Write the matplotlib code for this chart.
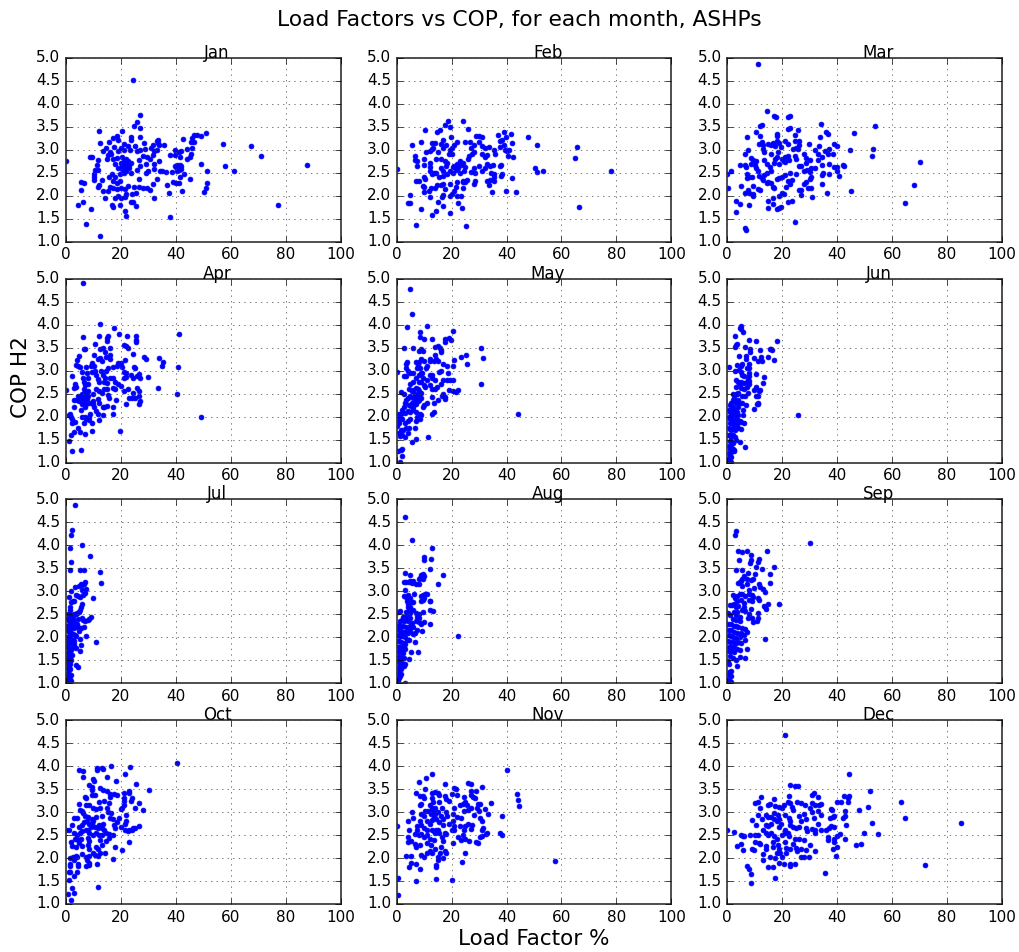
"""
Load factor vs COP scatter, one panel per month, for the ASHP sites.
Values read off the reference picture by eye.
"""

import matplotlib
import matplotlib.pyplot as plt
import numpy as np

matplotlib.use("Agg")

MONTHS = ["Jan", "Feb", "Mar", "Apr", "May", "Jun",
          "Jul", "Aug", "Sep", "Oct", "Nov", "Dec"]
X_TICKS = [0, 20, 40, 60, 80, 100]
Y_TICKS = [1.0, 1.5, 2.0, 2.5, 3.0, 3.5, 4.0, 4.5, 5.0]

# (load factor %, COP H2) pairs for each month
jan = [(0, 2.75), (24.5, 4.53), (87.8, 2.68), (77, 1.8), (71, 2.87), (67.5, 3.09), (61.3, 2.53), (58, 2.64),
       (57, 3.12), (51, 3.37), (49, 3.3), (47.8, 3.33), (46.5, 3.33), (49.3, 2.7), (51.5, 2.53), (51.5, 2.28),
       (51, 2.18), (50.2, 2.09), (45.2, 2.36), (42.3, 2.11), (37.5, 2.07), (37.8, 1.53), (12.2, 1.13), (7.3, 1.39),
       (9.2, 1.72), (4.5, 1.8), (6.3, 1.87), (5.4, 2.13), (5.4, 2.3), (6.5, 2.27), (12, 3.41), (27, 3.76),
       (26, 3.61), (24.8, 3.51), (27, 3.48), (20.3, 3.41), (18.5, 3.3), (19, 3.21), (17, 3.25), (15.8, 3.18),
       (12.3, 3.15), (14.5, 3.05), (13.3, 2.98), (16, 2.96), (15.2, 2.88), (14.8, 2.8), (17.3, 3.07), (19, 2.98),
       (8.8, 2.85), (9.3, 2.84), (11.7, 2.79), (11.3, 2.68), (10.5, 2.57), (11.8, 2.57), (10.3, 2.47), (10.3, 2.42),
       (10.3, 2.35), (11.5, 2.2), (12, 2.23), (13.2, 2.34), (13.3, 2.1), (14.3, 1.95), (15.3, 2.1), (16, 2.2),
       (16.8, 1.8), (17.2, 1.75), (18, 1.96), (19, 2.0), (19.8, 1.81), (20.2, 1.96), (21.3, 1.66), (22, 1.57),
       (23.5, 1.86), (24.5, 1.87), (25.3, 1.78), (25.5, 2.06), (24, 2.04), (22, 2.05), (21.5, 1.98), (21.5, 2.14),
       (22.5, 2.22), (24.8, 2.2), (26.5, 2.19), (28, 2.18), (29.5, 2.18), (30.5, 2.13), (31.5, 2.26), (32, 1.95),
       (33, 2.36), (36.7, 2.23), (39, 2.3), (40, 2.28), (41.2, 2.28), (41.5, 2.4), (43, 2.47), (17, 2.16),
       (18.5, 2.15), (20, 2.18), (18.5, 2.28), (17.2, 2.33), (15.7, 2.4), (16.7, 2.48), (18, 2.4), (19.8, 2.33),
       (19.5, 2.47), (21, 2.5), (22, 2.55), (23.5, 2.5), (21, 2.62), (22, 2.68), (20, 2.72), (21, 2.76),
       (22, 2.8), (23.5, 2.72), (19, 2.6), (18, 2.7), (17.2, 2.8), (16.3, 2.9), (18.5, 2.82), (20.3, 2.84),
       (21, 3.0), (20, 3.05), (21, 3.12), (22.5, 3.08), (23.3, 3.0), (23.5, 3.22), (23.5, 3.28), (25, 3.08),
       (26, 2.97), (26.8, 3.28), (27, 3.0), (28, 2.87), (28.5, 3.15), (28.7, 3.02), (26.5, 2.78), (27, 2.65),
       (25.8, 2.57), (26.5, 2.37), (29, 2.7), (29.5, 2.85), (30.5, 2.8), (31.5, 2.88), (32, 2.7), (33.7, 2.76),
       (29.3, 2.5), (30, 2.55), (32, 2.59), (34.3, 2.53), (35, 2.53), (36.5, 2.52), (38.5, 2.52), (39.5, 2.65),
       (40.5, 2.68), (41, 2.6), (42, 2.65), (40.5, 2.55), (38, 2.88), (39.5, 2.88), (39.5, 3.0), (41, 2.95),
       (42, 2.98), (41.5, 2.84), (44, 3.03), (44, 2.8), (45, 2.85), (45.5, 2.92), (46, 3.05), (45.5, 3.18),
       (46.5, 3.18), (45.7, 3.25), (42.7, 3.23), (33.3, 3.2), (33.5, 3.15), (31.5, 3.1), (31, 3.05), (33, 3.0),
       (32, 2.97), (34, 3.1), (35.5, 3.1), (33.5, 3.22), (20.5, 2.58), (21.5, 2.7), (22.5, 2.62), (23, 2.6),
       (20.5, 2.66), (22.7, 2.75), (21.8, 2.6), (23, 2.68), (40, 2.62), (41.5, 2.68), (41, 2.56), (41.8, 2.58)]

feb = [(0, 2.59), (78, 2.55), (66.3, 1.76), (65.5, 3.07), (65, 2.83), (53.3, 2.55), (51, 2.51), (50.5, 2.6),
       (51, 3.11), (47.8, 3.28), (43.5, 2.09), (39.7, 2.11), (34.7, 2.08), (25.3, 1.34), (7, 1.37), (8.9, 1.72),
       (4, 1.84), (4.7, 1.84), (4.8, 2.02), (13, 1.59), (14.5, 1.68), (19.3, 1.63), (23.9, 1.74), (22.5, 1.85),
       (15, 1.86), (16.7, 1.78), (12, 1.97), (9.8, 2.08), (9.8, 2.2), (9.6, 2.22), (10, 2.4), (10.5, 2.37),
       (7.2, 2.32), (8, 2.32), (11.8, 2.1), (12.4, 2.17), (14, 2.16), (14.8, 2.24), (16, 2.24), (17, 2.25),
       (17.5, 2.15), (19.5, 2.25), (16.7, 2.01), (16.5, 1.98), (19.5, 2.0), (20, 2.05), (20.7, 2.1), (22, 2.0),
       (23.5, 2.0), (21.5, 2.2), (22, 2.3), (24, 2.18), (24.3, 2.33), (25, 2.3), (25.5, 2.35), (28, 2.25),
       (28.7, 2.33), (33, 2.33), (34, 2.35), (33.8, 2.23), (35.5, 2.32), (35.5, 2.42), (38, 2.43), (38.5, 2.48),
       (42, 2.38), (7.5, 2.65), (6.8, 2.78), (6.7, 2.87), (7.5, 2.75), (9.8, 2.8), (10, 2.68), (10.7, 2.95),
       (12, 2.97), (12.7, 3.02), (13.3, 3.04), (5.7, 3.11), (8.8, 3.17), (13, 3.16), (14, 3.16), (10.5, 3.44),
       (14.8, 3.4), (15.6, 3.44), (17.5, 3.55), (18.8, 3.63), (19.5, 3.5), (19.8, 3.29), (16.7, 3.22), (24, 3.63),
       (26, 3.45), (22, 3.18), (25, 3.18), (21, 3.1), (20, 3.05), (18, 3.1), (16, 3.12), (17, 3.05),
       (15, 2.95), (16, 2.8), (14.5, 2.8), (17.5, 2.75), (19, 2.9), (20, 2.92), (18, 2.65), (16, 2.6),
       (14.5, 2.5), (13.5, 2.5), (12.3, 2.55), (12, 2.62), (12.3, 2.72), (13, 2.47), (15.5, 2.4), (17, 2.43),
       (18.5, 2.47), (19.5, 2.55), (20.5, 2.62), (21.5, 2.57), (22, 2.7), (23, 2.75), (24.5, 2.55), (25, 2.62),
       (23, 2.5), (26, 2.8), (26.5, 2.87), (27.5, 2.9), (28, 2.95), (27, 3.05), (26.7, 3.17), (28, 3.1),
       (29, 3.31), (30, 3.3), (31, 3.29), (30, 3.17), (31, 3.08), (32, 3.05), (31, 2.9), (32, 2.85),
       (33, 2.88), (28, 2.6), (28.5, 2.5), (27, 2.52), (30, 2.65), (31, 2.55), (32, 2.6), (33, 2.7),
       (34, 2.65), (35, 2.68), (34.5, 2.5), (35.5, 2.48), (33.5, 3.07), (35.5, 3.0), (35.7, 2.9), (37.5, 3.07),
       (37.5, 3.2), (37.8, 2.65), (38, 2.68), (38.5, 3.22), (39, 3.1), (39.5, 3.0), (40, 2.98), (41, 3.0),
       (40.5, 2.87), (42.5, 2.85), (42, 3.14), (41.5, 3.35), (39, 3.4), (39.7, 3.27), (37, 3.33), (24, 2.3),
       (17, 2.55), (18.5, 2.72), (21, 2.66), (22.5, 2.6), (23.5, 2.68), (24.3, 2.72), (19.5, 3.0), (20.5, 2.5)]

mar = [(0, 2.48), (1.5, 2.53), (0.3, 2.17), (11, 4.88), (70, 2.73), (68, 2.24), (64.7, 1.85), (53.6, 3.52),
       (53, 3.03), (52.7, 2.87), (46, 3.37), (44.7, 3.0), (45, 2.11), (24.8, 1.44), (6.6, 1.31), (6.8, 1.26),
       (3.2, 1.65), (3.2, 1.88), (4.5, 1.83), (8, 1.8), (4.7, 2.67), (5, 2.21), (6.5, 2.07), (7.5, 2.12),
       (8, 2.07), (9.5, 2.0), (9.5, 2.05), (9.5, 2.22), (7, 3.29), (7.5, 3.0), (6.4, 2.9), (6.5, 2.67),
       (6.7, 2.63), (7.2, 2.47), (7.2, 2.38), (8, 2.4), (9, 2.42), (8.5, 2.7), (8.5, 2.82), (9.5, 2.78),
       (10, 2.68), (10.5, 2.6), (10.5, 2.75), (11, 2.55), (11, 2.15), (11.8, 2.12), (11.5, 2.43), (12.5, 2.38),
       (13, 2.35), (13.5, 2.45), (14.3, 2.5), (14.5, 2.27), (15, 2.3), (16, 2.27), (16.7, 2.2), (17, 2.18),
       (14.7, 1.88), (14.8, 1.74), (16.5, 1.96), (16.5, 1.83), (18, 1.71), (18.8, 1.73), (19.5, 1.76), (19, 2.0),
       (20, 2.06), (20.5, 2.03), (22, 1.87), (23.7, 1.88), (21.5, 2.2), (22, 2.33), (23, 2.25), (23.5, 2.35),
       (23, 2.5), (25, 2.48), (26, 2.12), (27, 2.12), (26.8, 2.02), (28, 2.25), (28.8, 2.3), (29.5, 2.17),
       (30.5, 2.17), (31, 1.97), (30, 2.37), (30.5, 2.4), (26, 2.65), (27, 2.65), (28, 2.55), (29, 2.57),
       (30, 2.52), (30.5, 2.6), (32, 2.6), (34.5, 2.68), (34.5, 2.45), (35, 2.5), (34.3, 2.25), (36.3, 2.07),
       (37, 2.47), (37, 2.7), (38.8, 2.62), (40, 2.63), (40, 2.53), (40.7, 2.43), (42, 2.68), (42.5, 2.65),
       (10.5, 3.38), (11.5, 3.13), (12, 3.52), (12.8, 3.55), (12, 3.3), (12.5, 3.18), (13, 3.1), (13, 3.02),
       (13.5, 2.95), (13.5, 2.78), (14.5, 2.7), (15.5, 2.63), (16, 2.55), (17, 2.72), (17.5, 2.8), (18, 2.85),
       (15, 3.12), (16, 3.1), (16.5, 3.15), (17.5, 3.08), (18, 3.2), (18, 3.3), (18, 3.35), (19, 3.15),
       (19.5, 3.07), (18.5, 2.95), (20, 2.8), (20.5, 2.75), (18.7, 2.7), (16, 2.9), (14.5, 3.85), (17, 3.74),
       (17.7, 3.72), (22, 3.72), (23, 3.74), (22, 3.46), (22.8, 3.48), (25.7, 3.44), (21, 3.2), (22, 3.13),
       (24.7, 3.2), (24.7, 3.33), (26, 3.2), (26, 3.1), (25, 3.05), (25.7, 3.02), (24, 3.02), (21, 2.85),
       (22, 2.87), (22.5, 2.78), (21, 2.73), (24.8, 2.87), (25, 2.8), (28, 2.9), (28.5, 2.82), (28.8, 2.72),
       (30, 2.78), (29.7, 3.12), (32, 3.0), (33, 2.9), (33, 2.78), (33.7, 3.27), (34, 3.57), (33.5, 3.08),
       (34.5, 2.85), (35.5, 2.98), (36, 3.4), (36.5, 3.35), (36.5, 2.9), (37, 3.02), (38.7, 3.13), (38.5, 2.9),
       (40, 3.08), (20, 2.4), (19, 2.38), (18, 2.37), (21, 2.45)]

apr = [(0, 2.58), (6.2, 4.9), (41, 3.79), (40.7, 3.08), (40.3, 2.5), (49.3, 2.0), (35.3, 3.18), (34.8, 3.1),
       (34, 3.27), (33.5, 2.63), (30, 2.87), (29, 3.25), (28.3, 3.29), (19.5, 1.68), (5.3, 1.28), (2.2, 1.26),
       (1.1, 1.46), (2, 1.6), (3, 1.67), (4.3, 1.75), (5, 1.66), (6.8, 1.62), (9.5, 1.68), (9.3, 1.85),
       (6.5, 1.85), (3.2, 1.88), (2.2, 1.85), (1, 2.03), (1.6, 2.05), (1.8, 2.0), (2.2, 1.95), (3, 2.2),
       (2.8, 2.35), (4, 2.36), (4.3, 2.45), (4.8, 2.33), (5.3, 2.15), (5.7, 2.4), (6, 2.5), (6.5, 2.6),
       (6.5, 2.32), (7, 2.2), (7, 2.0), (7.3, 1.95), (5.7, 1.98), (8.5, 2.0), (8.7, 2.3), (8, 2.45),
       (8, 2.55), (3, 2.62), (3.2, 2.7), (3.8, 2.65), (2.1, 2.88), (3.5, 3.12), (4.2, 3.1), (4, 3.24),
       (4.9, 3.32), (5, 3.08), (6, 2.97), (6.3, 2.85), (6.6, 2.75), (7, 2.68), (7.3, 3.08), (7.8, 2.95),
       (8, 2.83), (8, 2.7), (6.3, 3.74), (6.5, 3.46), (7, 3.46), (10.5, 3.58), (12, 3.76), (12.2, 4.01),
       (17.5, 3.93), (19.3, 3.8), (22.2, 3.75), (15.3, 3.76), (15, 3.65), (15, 3.7), (25.3, 3.75), (25.3, 3.67),
       (25.3, 3.62), (21.2, 3.55), (22, 3.53), (22.5, 3.5), (16, 3.5), (13.5, 3.5), (12.5, 3.46), (14.3, 3.4),
       (14.5, 3.3), (16, 3.33), (16, 3.25), (24.3, 3.37), (21.5, 3.24), (10.2, 3.34), (11.7, 3.25), (12.5, 3.28),
       (13, 3.2), (9.5, 3.17), (10.3, 3.1), (10.5, 3.0), (9.2, 3.1), (9.3, 2.97), (11, 2.9), (11.5, 2.82),
       (12, 2.75), (12.8, 3.0), (13.5, 2.9), (14.3, 2.85), (14.5, 3.0), (15.2, 3.05), (16, 2.85), (17, 2.85),
       (17, 3.08), (18.5, 3.1), (19, 3.17), (20, 3.17), (20.5, 3.08), (18, 2.75), (19, 2.7), (20, 2.67),
       (21, 2.97), (22, 2.95), (21, 2.85), (22, 2.87), (23.5, 2.9), (25, 3.05), (24.7, 3.08), (24.5, 2.85),
       (26, 2.88), (26.5, 2.93), (27, 2.84), (11, 2.6), (12, 2.55), (13, 2.52), (14, 2.6), (15, 2.6),
       (15.3, 2.47), (15.5, 2.4), (15, 2.23), (14, 2.2), (13.5, 2.2), (13.3, 2.03), (11.5, 2.05), (11, 2.12),
       (10.3, 2.2), (10, 2.27), (10, 2.33), (11.5, 2.38), (12, 2.3), (17, 2.2), (17, 2.05), (18.2, 2.37),
       (18, 2.6), (21, 2.55), (22, 2.28), (22.5, 2.6), (23, 2.4), (24, 2.4), (24.5, 2.52), (25, 2.4),
       (26, 2.63), (26.5, 2.55), (26.5, 2.27), (27, 2.33), (26.7, 2.45), (14, 2.75), (10, 2.5), (8.7, 2.06),
       (8.3, 1.92), (12, 1.92), (17, 2.63), (15, 2.72), (5, 2.38), (6, 2.28), (7, 2.4), (7.5, 2.5),
       (6.8, 2.55), (7.8, 2.38), (7.3, 2.28), (5.5, 2.45), (6.3, 2.42)]

may = [(0, 2.96), (5, 4.77), (5.6, 4.24), (3.8, 3.96), (11, 3.98), (8.5, 3.85), (8.5, 3.73), (10, 3.68),
       (13, 3.69), (20.5, 3.86), (19, 3.7), (19.7, 3.66), (17.5, 3.68), (17.5, 3.63), (2.5, 3.49), (6, 3.49),
       (14, 3.52), (15, 3.53), (15.7, 3.5), (16, 3.45), (16, 3.4), (8, 3.42), (9, 3.46), (9.5, 3.42),
       (14, 3.33), (14.5, 3.25), (15, 3.2), (12, 3.2), (12, 3.25), (13.5, 3.22), (30.7, 3.49), (31.3, 3.27),
       (25.3, 3.33), (23.5, 3.29), (25.5, 3.14), (20.7, 3.23), (20.5, 3.09), (30.8, 2.7), (44.3, 2.05), (11.5, 1.55),
       (5.6, 1.44), (7, 1.52), (1.8, 1.15), (2, 1.29), (0.5, 1.26), (1.5, 1.27), (1.2, 1.02), (17, 3.15),
       (18.5, 3.1), (16, 3.0), (15.5, 2.98), (18.8, 2.94), (17, 2.8), (18.5, 2.8), (19.5, 2.8), (20.5, 2.8),
       (19, 2.58), (20.5, 2.55), (21.5, 2.53), (22.3, 2.58), (17, 2.5), (17.5, 2.42), (17.5, 2.38), (16.5, 2.45),
       (15, 2.35), (13.7, 2.3), (13, 2.42), (13, 2.05), (13.5, 2.1), (16, 2.7), (14.7, 2.65), (14, 2.6),
       (13, 2.6), (14, 2.8), (13, 2.85), (12, 2.9), (11, 2.8), (10.7, 3.05), (11, 3.1), (10, 3.2),
       (9, 3.25), (8, 3.18), (7, 3.18), (7.5, 3.05), (8.5, 3.05), (9, 2.95), (9.5, 2.85), (9, 2.75),
       (8, 2.75), (7, 2.85), (6, 2.95), (5, 2.95), (4, 3.0), (3.5, 3.15), (3.8, 3.18), (3.5, 3.05),
       (2.5, 2.88), (3.3, 2.88), (4.5, 2.6), (5, 2.7), (6, 2.75), (6, 2.58), (7, 2.62), (8, 2.55),
       (9, 2.52), (10, 2.68), (10.5, 2.65), (11, 2.3), (10, 2.25), (9, 2.4), (8, 2.35), (7, 2.4),
       (6, 2.4), (5.5, 2.3), (5, 2.45), (4, 2.4), (3, 2.3), (2.5, 2.2), (1.5, 2.53), (2.5, 2.5),
       (2, 2.15), (3, 2.08), (4, 2.12), (5, 2.1), (6, 2.15), (7, 2.1), (7.5, 2.0), (7.2, 1.9),
       (8.5, 2.05), (8.5, 1.95), (9, 2.03), (6.5, 1.75), (4.5, 1.75), (4.2, 1.65), (3, 1.85), (4, 1.9),
       (5, 1.95), (2, 1.95), (1.5, 2.05), (0.5, 2.05), (1, 1.95), (0.3, 1.8), (1, 1.85), (1, 1.65),
       (1.5, 1.7), (1.2, 1.58), (2, 1.6), (3, 1.55), (2.2, 1.7), (3.5, 1.75), (9.3, 2.95), (6, 2.2),
       (7, 2.28), (7.5, 2.45), (8.3, 2.48), (9.5, 2.2), (7.8, 3.12), (8.2, 2.9), (12, 2.68), (12.7, 2.9),
       (6.5, 2.32), (7.8, 2.33), (5.3, 2.22), (4.5, 2.25), (3.5, 2.35), (6.5, 2.5), (5.5, 2.55), (7.8, 2.6)]

jun = [(0.5, 3.07), (25.7, 2.03), (18, 3.64), (10.6, 3.65), (8, 3.67), (5, 3.97), (5, 3.9), (4.6, 3.92),
       (5.6, 3.83), (2.8, 3.75), (3.3, 3.55), (2.9, 3.52), (3.7, 3.58), (6.3, 3.52), (8.3, 3.46), (8.3, 3.4),
       (12, 3.45), (16, 3.47), (15.5, 3.46), (16.3, 3.45), (15, 3.3), (12.2, 3.3), (11, 3.2), (12.5, 3.2),
       (17, 3.23), (4.1, 3.32), (6.8, 3.32), (6.7, 3.25), (9.7, 3.27), (8, 3.15), (8, 3.05), (7, 3.05),
       (5.3, 3.15), (5, 3.1), (3.5, 3.13), (2.8, 3.0), (4.2, 3.02), (5, 2.98), (5.5, 2.9), (6, 2.88),
       (8, 2.95), (8, 2.88), (7.5, 2.82), (10.5, 2.93), (13.3, 2.87), (13, 2.72), (10.6, 2.65), (9.7, 2.57),
       (11.5, 2.55), (12, 2.57), (10.5, 2.45), (11, 2.45), (11, 2.3), (10.8, 2.27), (11.3, 2.28), (9.7, 2.16),
       (3.2, 2.8), (4, 2.75), (4.5, 2.7), (5, 2.75), (6, 2.72), (7, 2.75), (8, 2.7), (8, 2.78),
       (7, 2.65), (6, 2.6), (5, 2.62), (3.3, 2.65), (7.5, 2.52), (6.5, 2.45), (5.5, 2.45), (4, 2.52),
       (3.5, 2.5), (2, 2.5), (3, 2.5), (1, 2.25), (1.5, 2.3), (2, 2.35), (2.5, 2.4), (3, 2.3),
       (4, 2.35), (4.5, 2.3), (5.5, 2.3), (6.7, 2.25), (0.5, 2.15), (1, 2.1), (1.5, 2.15), (2, 2.2),
       (2.7, 2.15), (3.5, 2.1), (4, 2.2), (5.8, 2.15), (5.7, 2.03), (0.5, 2.0), (1, 1.95), (1.5, 2.02),
       (2, 2.05), (2.5, 1.95), (3, 2.0), (3.5, 1.95), (4, 2.03), (4.5, 1.9), (5, 1.88), (6, 1.87),
       (1, 1.85), (1.5, 1.85), (2, 1.88), (2.5, 1.82), (3, 1.85), (3.5, 1.82), (4, 1.75), (5, 1.72),
       (0.5, 1.75), (1, 1.72), (1.5, 1.7), (2, 1.75), (2.8, 1.7), (0.4, 1.6), (1, 1.6), (1.5, 1.55),
       (2, 1.6), (2.8, 1.55), (3, 1.48), (4.5, 1.45), (1, 1.47), (1.5, 1.45), (2, 1.42), (0.5, 1.35),
       (1, 1.3), (1.5, 1.33), (2, 1.3), (2.5, 1.28), (2.6, 1.25), (1.5, 1.22), (0.5, 1.2), (1, 1.15),
       (1.5, 1.12), (6.5, 1.33), (0.3, 1.08), (0.7, 1.03), (1.2, 1.01), (0.4, 1.0), (1, 1.0)]

jul = [(3.2, 4.87), (2.3, 4.33), (2, 4.22), (6, 4.01), (1.6, 3.94), (8.8, 3.77), (2, 3.64), (1.3, 3.47),
       (5, 3.46), (6.5, 3.47), (12.2, 3.42), (12.9, 3.19), (7, 3.2), (6.4, 3.17), (6, 3.14), (5.5, 3.15),
       (4.7, 3.12), (3.2, 3.09), (2, 3.0), (7.2, 3.05), (6, 3.03), (7, 2.96), (6.2, 2.93), (5, 2.88),
       (3.8, 2.92), (4.2, 2.9), (1, 2.88), (10, 2.85), (2, 2.76), (2.6, 2.78), (3, 2.8), (5.7, 2.73),
       (5.5, 2.65), (5.2, 2.6), (1.3, 2.66), (1.3, 2.6), (4.7, 2.55), (4, 2.53), (3.5, 2.5), (3, 2.5),
       (0.8, 2.5), (1.3, 2.5), (2, 2.47), (2.5, 2.45), (9, 2.44), (8.5, 2.4), (8, 2.37), (7, 2.35),
       (5.8, 2.42), (6.2, 2.38), (4.5, 2.4), (0.5, 2.4), (1, 2.35), (1.5, 2.4), (2, 2.35), (3, 2.35),
       (3.5, 2.3), (4, 2.3), (0.5, 2.25), (1, 2.25), (1.5, 2.28), (2, 2.22), (2.5, 2.25), (3, 2.2),
       (4.5, 2.22), (5.3, 2.2), (6.5, 2.23), (4.7, 2.13), (0.5, 2.15), (1, 2.12), (1.5, 2.15), (2, 2.1),
       (2.5, 2.08), (3.2, 2.05), (3.7, 2.02), (7.3, 2.03), (0.5, 2.0), (1, 2.0), (1.5, 2.03), (2, 1.95),
       (2.5, 1.95), (3, 1.92), (5, 1.97), (11, 1.9), (0.3, 1.9), (1, 1.88), (1.5, 1.9), (2, 1.85),
       (2.8, 1.85), (3, 1.78), (3.5, 1.77), (5.3, 1.83), (5, 1.7), (0.5, 1.78), (1, 1.75), (1.5, 1.75),
       (2, 1.72), (0.3, 1.65), (1, 1.65), (1.5, 1.62), (2.3, 1.62), (0.5, 1.55), (1, 1.55), (1.5, 1.52),
       (2, 1.5), (0.3, 1.45), (1, 1.45), (1.5, 1.42), (0.5, 1.35), (1, 1.35), (1.4, 1.3), (3.7, 1.39),
       (4.4, 1.36), (0.3, 1.25), (0.8, 1.25), (1.2, 1.2), (2, 1.18), (0.3, 1.15), (0.8, 1.12), (1.5, 1.1),
       (0.2, 1.05), (0.7, 1.05), (1.2, 1.03), (1.8, 1.04), (0.3, 1.0), (0.9, 1.0), (1.5, 1.0)]

aug = [(3, 4.61), (5.5, 4.11), (13, 3.94), (10, 3.75), (10, 3.69), (12.5, 3.71), (12, 3.49), (17, 3.36),
       (15, 3.15), (3, 3.4), (5, 3.36), (9, 3.35), (9.5, 3.38), (10, 3.33), (8.5, 3.3), (8.3, 3.27),
       (9.5, 3.28), (2.5, 3.21), (3.5, 3.2), (4.5, 3.2), (5, 3.23), (5.5, 3.18), (6, 3.22), (7, 3.17),
       (8, 3.17), (3.2, 3.02), (6.2, 2.95), (2.7, 2.9), (3.3, 2.88), (4.2, 2.92), (5, 2.85), (10.5, 2.95),
       (11, 2.95), (9.5, 2.92), (8.7, 2.9), (8.7, 2.8), (9.5, 2.82), (10, 2.85), (12, 2.8), (12.3, 2.78),
       (3.8, 2.78), (4.2, 2.72), (5.5, 2.77), (6, 2.77), (4, 2.65), (5, 2.65), (4.5, 2.6), (6, 2.6),
       (12, 2.6), (13.3, 2.57), (0.5, 2.55), (1.2, 2.57), (3.5, 2.55), (4, 2.52), (5, 2.52), (7, 2.52),
       (8, 2.5), (9.5, 2.55), (7.5, 2.45), (8, 2.42), (2.3, 2.45), (3, 2.45), (3.7, 2.42), (5, 2.42),
       (1.2, 2.35), (2, 2.38), (2.8, 2.35), (4, 2.35), (5.5, 2.32), (7.2, 2.35), (8, 2.33), (9, 2.3),
       (10, 2.33), (12, 2.3), (0.2, 2.25), (1, 2.27), (1.5, 2.22), (2.3, 2.25), (3.3, 2.22), (4, 2.2),
       (5, 2.25), (6, 2.23), (7.5, 2.17), (9.3, 2.14), (0.8, 2.15), (1.5, 2.12), (2.3, 2.12), (3.2, 2.12),
       (4, 2.1), (5, 2.13), (6, 2.08), (6.7, 2.1), (22.5, 2.03), (0.5, 2.05), (1.2, 2.03), (2, 2.03),
       (3, 2.0), (3.8, 1.95), (4.5, 1.95), (6.6, 1.89), (0.5, 1.92), (1, 1.92), (1.7, 1.9), (2.5, 1.88),
       (3, 1.85), (0.5, 1.8), (1, 1.8), (1.8, 1.8), (2.5, 1.78), (3.2, 1.75), (5.2, 1.68), (7.7, 1.68),
       (0.5, 1.7), (1, 1.68), (1.6, 1.7), (2.4, 1.65), (0.4, 1.58), (1.2, 1.58), (1.8, 1.55), (2.8, 1.55),
       (4.6, 1.52), (0.6, 1.48), (1.2, 1.45), (2, 1.45), (3, 1.42), (2.7, 1.37), (0.4, 1.35), (1, 1.35),
       (1.7, 1.32), (0.5, 1.25), (1, 1.22), (1.5, 1.2), (0.3, 1.15), (0.8, 1.12), (1.3, 1.15), (0.4, 1.05),
       (3, 1.0)]

sep = [(30, 4.05), (3, 4.32), (2.8, 4.22), (14.4, 3.88), (3.8, 3.88), (5.2, 3.86), (7.2, 3.88), (8.8, 3.8),
       (4.2, 3.69), (8.5, 3.68), (8.2, 3.62), (11.5, 3.71), (11, 3.65), (10.5, 3.53), (17, 3.53), (12.5, 3.48),
       (3.2, 3.47), (5.2, 3.47), (15.7, 3.38), (7.5, 3.39), (10, 3.38), (15.6, 3.18), (6, 3.33), (5.3, 3.28),
       (5, 3.22), (7, 3.27), (8.5, 3.25), (9.5, 3.27), (4, 3.18), (4.8, 3.2), (5.3, 3.12), (7, 3.15),
       (11.5, 3.15), (12, 3.1), (9.7, 3.07), (13, 3.05), (13.7, 2.98), (8, 3.02), (2, 2.93), (3.5, 2.9),
       (4.5, 2.95), (5.5, 2.95), (6.5, 2.9), (7.8, 2.95), (9, 2.92), (9.5, 2.88), (11, 2.85), (11.7, 2.82),
       (8, 2.82), (9, 2.78), (2.8, 2.85), (3.5, 2.78), (5, 2.82), (6, 2.75), (1, 2.7), (1.7, 2.7),
       (2.5, 2.72), (3, 2.65), (4, 2.68), (6.2, 2.65), (13.5, 2.68), (14, 2.62), (15, 2.72), (18.7, 2.72),
       (13.8, 2.65), (8.5, 2.62), (6.5, 2.58), (5.5, 2.6), (3.7, 2.55), (2.3, 2.55), (0.3, 2.52), (1, 2.48),
       (3, 2.48), (4.5, 2.45), (8, 2.5), (11, 2.53), (7.5, 2.42), (9, 2.42), (9.5, 2.33), (10.7, 2.35),
       (11.3, 2.42), (2, 2.4), (3, 2.38), (4.5, 2.35), (0.3, 2.3), (1.2, 2.3), (2.4, 2.25), (3.2, 2.25),
       (4, 2.22), (5.5, 2.2), (6.5, 2.18), (0.5, 2.15), (1.5, 2.15), (2.5, 2.12), (3.5, 2.1), (5, 2.1),
       (7, 2.12), (6, 2.05), (0.5, 2.05), (1.2, 2.02), (2.2, 2.0), (3.2, 1.98), (4.5, 2.0), (6.5, 1.95),
       (13.7, 1.96), (0.3, 1.93), (1, 1.9), (2, 1.9), (3, 1.87), (4, 1.9), (5, 1.88), (0.5, 1.8),
       (1.5, 1.8), (2.5, 1.78), (3.5, 1.75), (4.5, 1.72), (7.2, 1.74), (0.5, 1.7), (1.5, 1.7), (2.5, 1.68),
       (4.5, 1.58), (6.6, 1.55), (1, 1.6), (2, 1.55), (3, 1.5), (0.3, 1.48), (0.8, 1.42), (3.7, 1.37),
       (0.8, 1.25), (1.5, 1.27), (0.5, 1.18), (1.2, 1.15), (0.4, 1.08), (1, 1.05), (1.5, 1.02), (0.5, 1.0)]

oct_ = [(0, 2.62), (1, 2.6), (40.3, 4.07), (30.3, 3.49), (28, 3.05), (26.7, 3.2), (25.4, 3.62), (23.2, 3.98),
        (16.3, 4.01), (11.4, 3.95), (11.4, 3.92), (13, 3.95), (13.5, 3.93), (4.8, 3.92), (6.2, 3.9), (6.3, 3.77),
        (10, 3.72), (10.3, 3.68), (14.8, 3.77), (18.2, 3.67), (21.3, 3.84), (23, 3.47), (23, 3.42), (8.2, 3.6),
        (9.3, 3.55), (9.5, 3.48), (12.3, 3.52), (13.5, 3.48), (15, 3.45), (16, 3.4), (17.5, 3.4), (18.5, 3.38),
        (21, 3.42), (16, 3.33), (15.7, 3.2), (21, 3.3), (21, 3.25), (24, 3.3), (23.7, 3.25), (25, 3.1),
        (21, 3.15), (20.5, 3.1), (20, 3.07), (7, 3.33), (7.3, 3.3), (9.5, 3.38), (10.7, 3.38), (12, 3.22),
        (13.7, 3.25), (4.7, 3.17), (5, 3.05), (6, 3.03), (7.2, 3.15), (8.5, 3.15), (9.7, 3.1), (11, 3.07),
        (12.5, 3.08), (15, 3.08), (15.3, 3.0), (16.5, 2.98), (4, 2.88), (3, 2.87), (6.2, 2.97), (7, 2.92),
        (8, 2.9), (9.5, 2.85), (11, 2.9), (13, 2.92), (16, 2.88), (17, 2.85), (19.3, 2.88), (22, 2.94),
        (2.3, 2.72), (4.7, 2.68), (5.7, 2.72), (6.5, 2.78), (7.5, 2.8), (8.5, 2.75), (9.5, 2.75), (10.5, 2.68),
        (12, 2.72), (13, 2.65), (14, 2.6), (17.5, 2.72), (18, 2.66), (18.5, 2.78), (20, 2.68), (22, 2.8),
        (21.5, 2.75), (24.5, 2.65), (25, 2.66), (26.5, 2.7), (24, 2.62), (23, 2.62), (22.5, 2.58), (21.5, 2.6),
        (3, 2.55), (4, 2.5), (5.2, 2.55), (6, 2.58), (7.3, 2.6), (8.5, 2.55), (9.7, 2.5), (11, 2.55),
        (12, 2.5), (13, 2.5), (14.5, 2.55), (15.5, 2.52), (17, 2.51), (3.2, 2.42), (4.5, 2.4), (5.5, 2.42),
        (8, 2.43), (8.5, 2.38), (12.2, 2.4), (15.7, 2.43), (14.4, 2.37), (23, 2.36), (1.8, 2.35), (2.3, 2.27),
        (3.7, 2.25), (4.8, 2.33), (6, 2.27), (7.9, 2.28), (8.2, 2.2), (11, 2.23), (11.5, 2.2), (13.2, 2.29),
        (17.7, 2.24), (20.5, 2.18), (10, 2.12), (10.5, 2.07), (11.5, 2.05), (12.3, 2.12), (14.3, 2.1), (17, 1.99),
        (1.5, 2.0), (2.7, 2.02), (3.5, 2.04), (4, 2.02), (3, 1.95), (5.7, 2.08), (7.3, 2.02), (8.3, 2.05),
        (7.5, 1.95), (8.3, 1.9), (1.3, 1.88), (1.3, 1.83), (4.3, 1.87), (4.2, 1.83), (7.3, 1.82), (8.3, 1.85),
        (11.3, 1.88), (1, 1.69), (1.6, 1.7), (4, 1.7), (2.8, 1.61), (1, 1.52), (2.2, 1.35), (11.5, 1.37),
        (2.8, 1.25), (0.6, 1.22), (1.8, 1.09), (8, 2.62), (9, 2.68), (10, 2.8), (11.5, 2.65), (13.5, 2.75)]

nov = [(0, 2.7), (0.6, 1.57), (0.4, 1.19), (57.5, 1.93), (40.2, 3.92), (43.8, 3.4), (44.3, 3.26), (44.7, 3.14),
       (38.5, 2.92), (38.5, 2.5), (37.5, 2.54), (34.3, 3.2), (33.3, 2.96), (33, 2.54), (32.5, 2.52), (32, 3.07),
       (31, 3.54), (26, 3.63), (27, 3.62), (27, 3.45), (21, 3.52), (21.7, 3.5), (17.5, 3.61), (13, 3.82),
       (10.7, 3.74), (8.2, 3.65), (10.4, 3.5), (7.2, 3.41), (8.5, 3.36), (9.5, 3.34), (10, 3.3), (12.8, 3.41),
       (14, 3.43), (15, 3.42), (15.3, 3.37), (17.5, 3.35), (20, 3.4), (22, 3.38), (13, 3.3), (13.3, 3.22),
       (15.3, 3.22), (18, 3.28), (19, 3.24), (24.5, 3.33), (27, 3.37), (27.7, 3.33), (28.5, 3.3), (29, 3.47),
       (8.5, 3.15), (9, 3.17), (12, 3.15), (13, 3.1), (14, 3.08), (15, 3.0), (16.5, 3.1), (18, 3.0),
       (21, 3.1), (23, 3.15), (24, 3.18), (25, 3.22), (25.5, 3.15), (26, 3.05), (27, 3.08), (24.5, 3.03),
       (29.5, 3.18), (30.3, 3.18), (29.3, 3.1), (5.7, 3.01), (5.8, 2.87), (4.2, 2.8), (9, 2.95), (10, 2.92),
       (10.5, 3.03), (11.5, 3.03), (12.5, 2.95), (13.5, 2.9), (14.5, 2.85), (16, 2.92), (17, 2.85), (18.5, 2.92),
       (20.5, 2.96), (22, 2.9), (23.5, 2.88), (28.3, 2.93), (30, 3.02), (30.5, 2.87), (31, 2.8), (8.5, 2.8),
       (9, 2.72), (11, 2.8), (12, 2.75), (13, 2.82), (15.5, 2.78), (17, 2.72), (19, 2.75), (20.5, 2.8),
       (21, 2.7), (23, 2.7), (25, 2.7), (26, 2.75), (27.5, 2.72), (4.5, 2.6), (7.5, 2.7), (7.5, 2.62),
       (10, 2.65), (11, 2.6), (13, 2.6), (14, 2.55), (15, 2.6), (17.5, 2.55), (20, 2.6), (21, 2.62),
       (24.5, 2.62), (27, 2.63), (31, 2.62), (31.5, 2.65), (4.3, 2.46), (6.5, 2.52), (8, 2.5), (9, 2.53),
       (10, 2.45), (11, 2.5), (12, 2.42), (13.5, 2.4), (16.5, 2.45), (18, 2.52), (22.5, 2.45), (24, 2.5),
       (25, 2.42), (26.5, 2.37), (30.5, 2.45), (31, 2.47), (4, 2.36), (5.2, 2.38), (6.5, 2.3), (7.2, 2.25),
       (8.5, 2.28), (11, 2.32), (12.5, 2.28), (14, 2.2), (16, 2.25), (17, 2.38), (20.5, 2.33), (23.5, 2.4),
       (29, 2.35), (29.5, 2.33), (11, 2.12), (12, 2.15), (13, 2.12), (15.8, 2.1), (17.5, 2.15), (18, 2.1),
       (17, 2.0), (25, 2.12), (3.3, 2.04), (5.3, 2.04), (8.8, 2.07), (9.8, 2.03), (15, 2.02), (15, 1.95),
       (14.5, 1.85), (14.5, 1.81), (23.8, 1.91), (5.2, 1.89), (7.2, 1.87), (4.5, 1.8), (8.4, 1.76), (7.2, 1.49),
       (14.5, 1.55), (20, 1.53), (13.5, 2.58), (14.5, 2.6), (15.5, 2.55), (12.5, 3.0), (13.5, 3.0), (14, 2.95)]

dec = [(0, 2.6), (2.6, 2.57), (85, 2.77), (71.8, 1.85), (64.7, 2.88), (63.4, 3.22), (55, 2.53), (52.7, 2.77),
       (52, 3.46), (51.3, 3.12), (49.7, 2.55), (48.7, 2.3), (47, 2.28), (48, 3.05), (44.4, 3.84), (44.4, 3.36),
       (44, 3.3), (44, 3.22), (42.5, 3.35), (41.5, 3.22), (40, 3.22), (42.8, 3.02), (43, 2.92), (42, 2.87),
       (43.2, 2.73), (42.8, 2.42), (41, 2.53), (40, 2.47), (39, 2.42), (39, 2.36), (40, 2.23), (38.5, 2.2),
       (39.5, 2.04), (35.5, 1.67), (21, 4.68), (23, 3.58), (24.8, 3.56), (25.7, 3.56), (31.5, 3.42), (31, 3.37),
       (33, 3.33), (22.5, 3.35), (22, 3.23), (23, 3.2), (25.5, 3.22), (27, 3.2), (28.3, 3.15), (12.2, 3.33),
       (17, 3.29), (10.2, 3.2), (11, 3.22), (11.8, 3.1), (15, 3.16), (15.7, 3.17), (17.5, 3.13), (19, 3.12),
       (20, 3.1), (20.5, 3.15), (23.5, 3.12), (24, 3.05), (30, 3.1), (31, 3.2), (32, 3.15), (33.5, 3.15),
       (34, 3.17), (33, 3.03), (31, 3.0), (34, 2.94), (37.7, 3.07), (38, 3.05), (39, 2.92), (38.5, 2.9),
       (37.5, 2.87), (9, 2.83), (11, 2.93), (12.8, 2.85), (14, 2.93), (15, 2.9), (16, 2.9), (17, 2.97),
       (18.5, 2.93), (21, 2.94), (22.5, 2.87), (23, 2.8), (26, 2.92), (28, 2.95), (27, 2.8), (28.5, 2.85),
       (31.5, 2.87), (10.5, 2.73), (14, 2.72), (15, 2.7), (16, 2.75), (17, 2.85), (18, 2.8), (19, 2.85),
       (19.5, 2.75), (19, 2.68), (21, 2.62), (23, 2.72), (24, 2.68), (25, 2.65), (26, 2.68), (28.5, 2.65),
       (29, 2.58), (31, 2.63), (32, 2.62), (33, 2.74), (34, 2.6), (36, 2.6), (37, 2.65), (37.7, 2.7),
       (38.8, 2.68), (5, 2.5), (5.7, 2.48), (6, 2.47), (8.2, 2.5), (10, 2.5), (11, 2.5), (13, 2.62),
       (14, 2.55), (15, 2.5), (16, 2.55), (17, 2.48), (18, 2.42), (20, 2.5), (21, 2.55), (22, 2.55),
       (22.5, 2.47), (24.5, 2.42), (26, 2.42), (28, 2.4), (32, 2.55), (36.5, 2.45), (36.5, 2.4), (3.5, 2.26),
       (5, 2.3), (10, 2.36), (12, 2.3), (11.5, 2.33), (14, 2.27), (14, 2.2), (16.5, 2.35), (16.8, 2.25),
       (18.5, 2.28), (19, 2.2), (21, 2.35), (21.5, 2.22), (23, 2.2), (24, 2.3), (25, 2.22), (25.5, 2.15),
       (27, 2.2), (28.7, 2.18), (30, 2.28), (32, 2.15), (5.8, 2.18), (9, 2.2), (9.8, 2.17), (13, 2.09),
       (15.5, 2.02), (17.5, 2.0), (18, 2.1), (19.2, 2.12), (20, 2.03), (21.5, 2.1), (27, 2.02), (28, 2.02),
       (29.8, 2.03), (13, 1.95), (19, 1.9), (20.5, 1.87), (23, 1.88), (23, 1.82), (24.5, 1.88), (15, 1.8),
       (16.5, 1.81), (7, 1.82), (8, 1.77), (8.5, 1.66), (8.5, 1.46), (17.5, 1.57)]

month_data = [jan, feb, mar, apr, may, jun, jul, aug, sep, oct_, nov, dec]

plt.style.use("classic")
plt.rcParams["axes.edgecolor"] = "#303030"
plt.rcParams["axes.linewidth"] = 1.2

fig, axes = plt.subplots(4, 3, figsize=(10.19, 9.52), dpi=100)
fig.subplots_adjust(left=66 / 1019, right=1002 / 1019, top=1 - 58 / 952, bottom=1 - 904 / 952,
                    wspace=56 / 275, hspace=37 / 184)
fig.patch.set_facecolor("white")

for ax, name, points in zip(axes.flat, MONTHS, month_data):
    lf, cop = np.array(points).T
    ax.plot(lf, cop, "b.", markersize=7)
    ax.set_xlim(0, 100)
    ax.set_ylim(1, 5)
    ax.set_xticks(X_TICKS)
    ax.set_yticks(Y_TICKS)
    ax.tick_params(labelsize=11)
    ax.grid(True, color="#444444")
    # month titles sit right of centre and touch the frame
    ax.set_title(name, fontsize=12, x=0.55, pad=0)

fig.suptitle("Load Factors vs COP, for each month, ASHPs", x=0.51, y=0.979, fontsize=15.7, va="center")
fig.text(534 / 1019, 1 - 939 / 952, "Load Factor %", fontsize=15.5, ha="center", va="center")
fig.text(21 / 1019, 1 - 377 / 952, "COP H2", fontsize=15.5, rotation=90, ha="center", va="center")

fig.savefig("out.png", dpi=100, facecolor="white")
